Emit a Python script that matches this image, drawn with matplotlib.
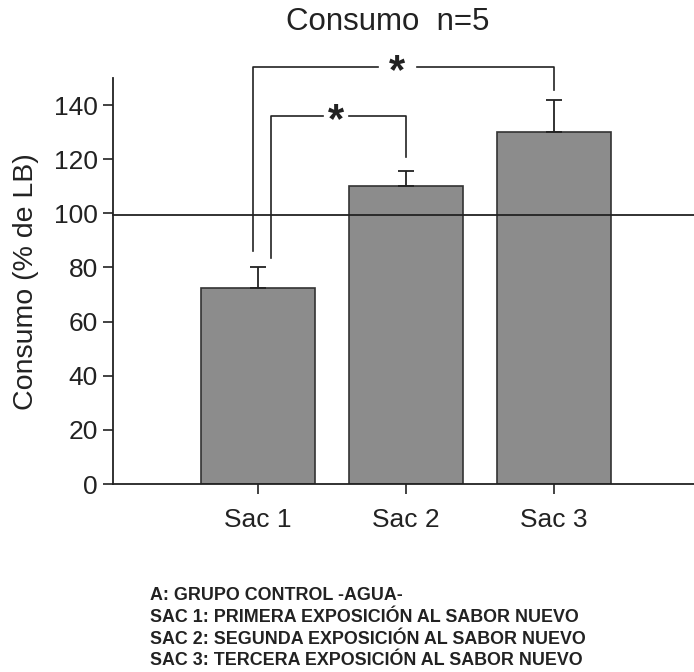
import matplotlib
matplotlib.use("Agg")
import matplotlib.pyplot as plt

categories = ["Sac 1", "Sac 2", "Sac 3"]
values = [72.5, 110.0, 130.2]
errors = [7.5, 5.6, 11.6]
reference_level = 99.3
yticks = [0, 20, 40, 60, 80, 100, 120, 140]
footnote = ["A: GRUPO CONTROL -AGUA-",
            "SAC 1: PRIMERA EXPOSICIÓN AL SABOR NUEVO",
            "SAC 2: SEGUNDA EXPOSICIÓN AL SABOR NUEVO",
            "SAC 3: TERCERA EXPOSICIÓN AL SABOR NUEVO"]

plt.rcParams['font.family'] = ['Liberation Sans', 'DejaVu Sans']

fig = plt.figure(figsize=(6.94, 6.72), dpi=100)
W, H = 694, 672
x0, x1 = 113, 705
y0, y1 = 484, 78
ax = fig.add_axes([x0 / W, 1 - y0 / H, (x1 - x0) / W, (y0 - y1) / H])

pos = [1, 2, 3]
ax.bar(pos, values, width=0.77, color='#8c8c8c', edgecolor='#333333', linewidth=1.2, zorder=2)
ax.errorbar(pos, values, yerr=[[0, 0, 0], errors], fmt='none', ecolor='#222222',
            elinewidth=1.3, capsize=6, capthick=1.3, zorder=3)
ax.axhline(reference_level, color='#222222', linewidth=1.3, zorder=4, clip_on=False)

ax.set_xlim(0.02, 4.02)
ax.set_ylim(0, 150)
ax.set_xticks(pos)
ax.set_xticklabels(categories, fontsize=19)
ax.set_yticks(yticks)
ax.set_yticklabels([str(t) for t in yticks], fontsize=19)
ax.tick_params(axis='both', direction='out', length=7, width=1.2, color='#222222', labelcolor='#222222')
ax.tick_params(axis='x', pad=10)
ax.tick_params(axis='y', pad=4)
for s in ['top', 'right']:
    ax.spines[s].set_visible(False)
for s in ['left', 'bottom']:
    ax.spines[s].set_linewidth(1.3)
    ax.spines[s].set_color('#222222')
ax.set_ylabel("Consumo (% de LB)", fontsize=20.5, color='#222222')
ax.yaxis.set_label_coords((39 - x0) / (x1 - x0), 0.4975)

# significance brackets
lc = '#222222'
# outer: Sac1 -> Sac3
ax.plot([0.966, 0.966, 1.81], [86.2, 154, 154], color=lc, lw=1.2, clip_on=False)
ax.plot([2.074, 3.0, 3.0], [154, 154, 145.5], color=lc, lw=1.2, clip_on=False)
ax.text(1.94, 154, "*", ha='center', va='center_baseline', fontsize=30, color=lc, fontweight='bold')
# inner: Sac1 -> Sac2
ax.plot([1.088, 1.088, 1.439], [83.5, 135.9, 135.9], color=lc, lw=1.2, clip_on=False)
ax.plot([1.615, 2.0, 2.0], [135.9, 135.9, 120.8], color=lc, lw=1.2, clip_on=False)
ax.text(1.527, 135.9, "*", ha='center', va='center_baseline', fontsize=30, color=lc, fontweight='bold')

fig.text(388 / W, 1 - 22 / H, "Consumo  n=5", ha='center', va='center', fontsize=22.5, color='#222222')

for i, line in enumerate(footnote):
    fig.text(150 / W, 1 - (596 + i * 21.5) / H, line, ha='left', va='center',
             fontsize=12.9, fontweight='bold', color='#222222')

fig.savefig("out.png", dpi=100)
